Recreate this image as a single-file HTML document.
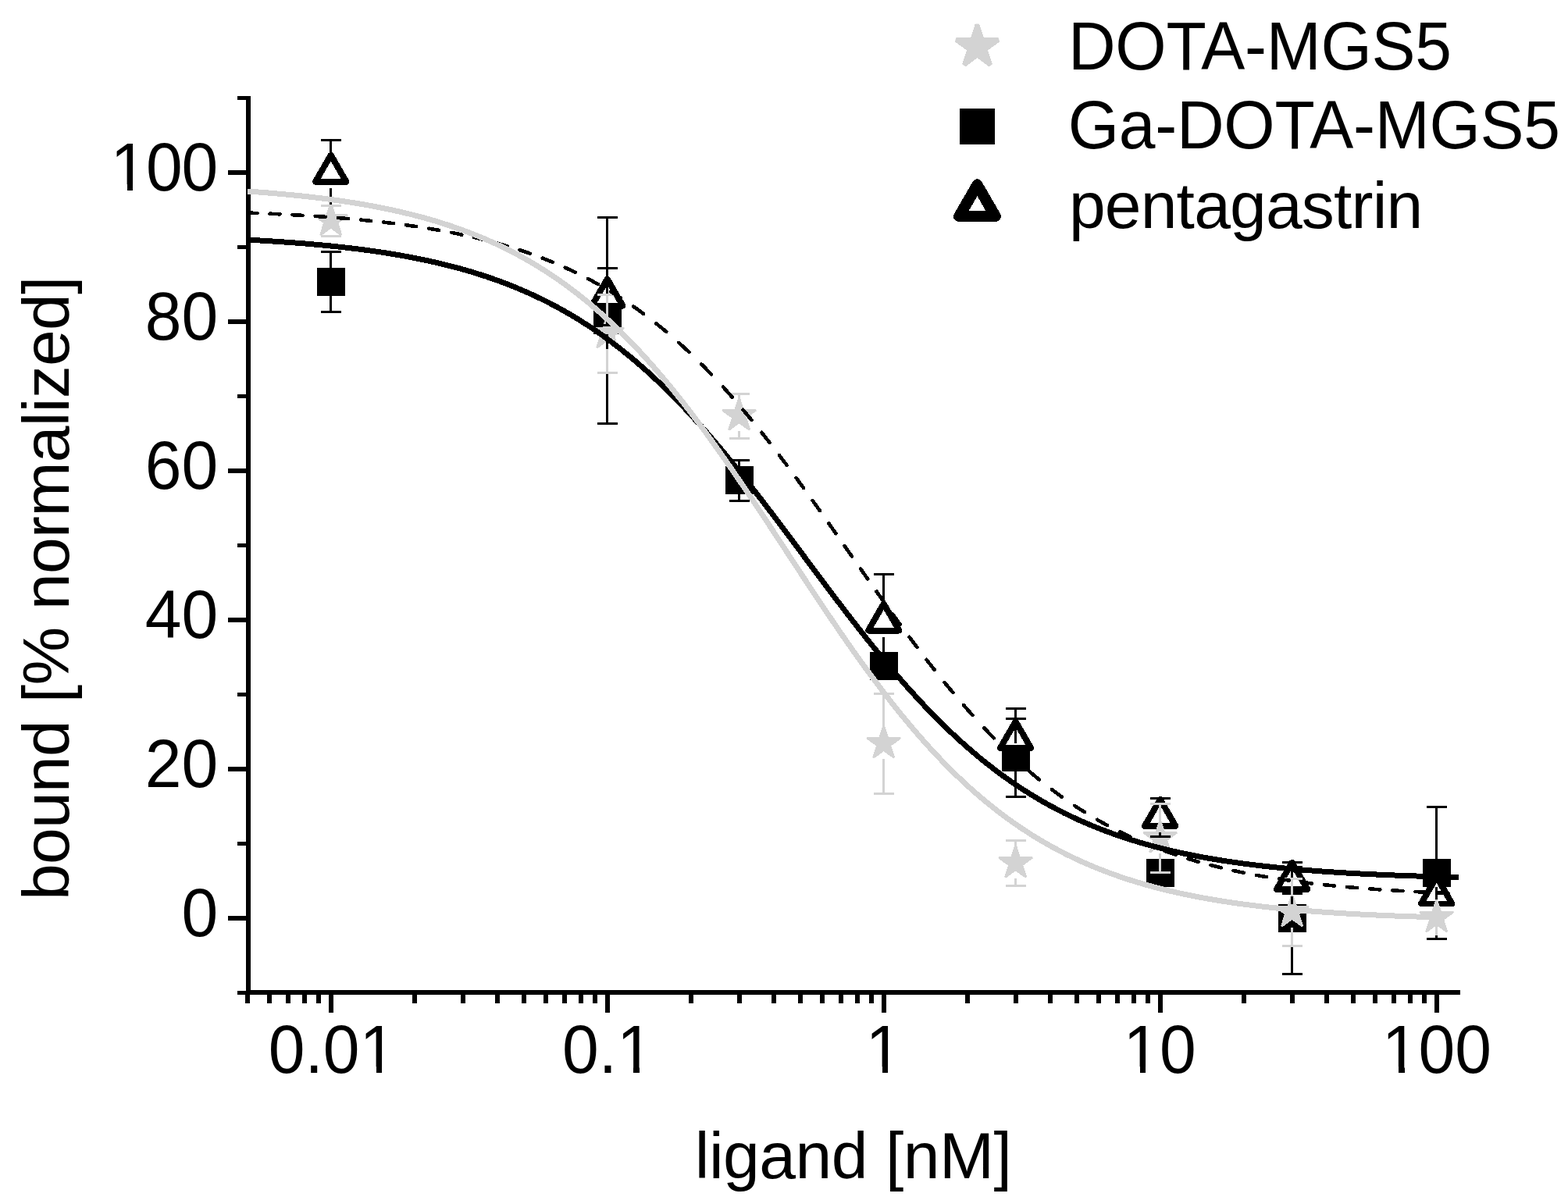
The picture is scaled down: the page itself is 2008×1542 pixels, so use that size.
<!DOCTYPE html>
<html><head><meta charset="utf-8"><title>Competitive binding curves</title>
<style>html,body{margin:0;padding:0;background:#fff;overflow:hidden;}svg{display:block;}</style></head>
<body>
<svg width="2008" height="1542" viewBox="0 0 2008 1542" shape-rendering="crispEdges">
<rect x="0" y="0" width="2008" height="1542" fill="#fff"/>
<g fill="#000"><rect x="315" y="123" width="6" height="1151"/><rect x="315" y="1268" width="1555" height="6"/><rect x="304" y="1269.00" width="12" height="5"/><rect x="292" y="1173.00" width="24" height="6"/><rect x="304" y="1078.00" width="12" height="5"/><rect x="292" y="982.00" width="24" height="6"/><rect x="304" y="887.00" width="12" height="5"/><rect x="292" y="791.00" width="24" height="6"/><rect x="304" y="696.00" width="12" height="5"/><rect x="292" y="600.00" width="24" height="6"/><rect x="304" y="505.00" width="12" height="5"/><rect x="292" y="409.00" width="24" height="6"/><rect x="304" y="314.00" width="12" height="5"/><rect x="292" y="218.00" width="24" height="6"/><rect x="304" y="123.00" width="12" height="5"/><rect x="314.44" y="1273" width="6" height="12"/><rect x="342.47" y="1273" width="6" height="12"/><rect x="366.16" y="1273" width="6" height="12"/><rect x="386.69" y="1273" width="6" height="12"/><rect x="404.80" y="1273" width="6" height="12"/><rect x="421.00" y="1273" width="6" height="24"/><rect x="527.56" y="1273" width="6" height="12"/><rect x="589.90" y="1273" width="6" height="12"/><rect x="634.13" y="1273" width="6" height="12"/><rect x="668.44" y="1273" width="6" height="12"/><rect x="696.47" y="1273" width="6" height="12"/><rect x="720.16" y="1273" width="6" height="12"/><rect x="740.69" y="1273" width="6" height="12"/><rect x="758.80" y="1273" width="6" height="12"/><rect x="775.00" y="1273" width="6" height="24"/><rect x="881.56" y="1273" width="6" height="12"/><rect x="943.90" y="1273" width="6" height="12"/><rect x="988.13" y="1273" width="6" height="12"/><rect x="1022.44" y="1273" width="6" height="12"/><rect x="1050.47" y="1273" width="6" height="12"/><rect x="1074.16" y="1273" width="6" height="12"/><rect x="1094.69" y="1273" width="6" height="12"/><rect x="1112.80" y="1273" width="6" height="12"/><rect x="1129.00" y="1273" width="6" height="24"/><rect x="1235.56" y="1273" width="6" height="12"/><rect x="1297.90" y="1273" width="6" height="12"/><rect x="1342.13" y="1273" width="6" height="12"/><rect x="1376.44" y="1273" width="6" height="12"/><rect x="1404.47" y="1273" width="6" height="12"/><rect x="1428.16" y="1273" width="6" height="12"/><rect x="1448.69" y="1273" width="6" height="12"/><rect x="1466.80" y="1273" width="6" height="12"/><rect x="1483.00" y="1273" width="6" height="24"/><rect x="1589.56" y="1273" width="6" height="12"/><rect x="1651.90" y="1273" width="6" height="12"/><rect x="1696.13" y="1273" width="6" height="12"/><rect x="1730.44" y="1273" width="6" height="12"/><rect x="1758.47" y="1273" width="6" height="12"/><rect x="1782.16" y="1273" width="6" height="12"/><rect x="1802.69" y="1273" width="6" height="12"/><rect x="1820.80" y="1273" width="6" height="12"/><rect x="1837.00" y="1273" width="6" height="24"/></g>
<g font-family="Liberation Sans, Arial, sans-serif" font-size="84" fill="#000"><text transform="translate(279.2 1198.7) scale(1 1.03)" text-anchor="end">0</text><text transform="translate(279.2 1007.7) scale(1 1.03)" text-anchor="end">20</text><text transform="translate(279.2 816.7) scale(1 1.03)" text-anchor="end">40</text><text transform="translate(279.2 625.7) scale(1 1.03)" text-anchor="end">60</text><text transform="translate(279.2 434.7) scale(1 1.03)" text-anchor="end">80</text><text transform="translate(141.5 243.7) scale(1 1.03)" textLength="137.7" lengthAdjust="spacing" mask="url(#m1a)">100</text><text transform="translate(425.4 1374) scale(1 1.03)" text-anchor="middle" mask="url(#m10d01)">0.01</text><text transform="translate(778.4 1374) scale(1 1.03)" text-anchor="middle" mask="url(#m10d1)">0.1</text><text transform="translate(1131.9 1374) scale(1 1.03)" text-anchor="middle" mask="url(#m11)">1</text><text transform="translate(1485.1 1374) scale(1 1.03)" text-anchor="middle" mask="url(#m110)">10</text><text transform="translate(1839.9 1374) scale(1 1.03)" text-anchor="middle" mask="url(#m1100)">100</text><text x="889.7" y="1509" textLength="406.2" lengthAdjust="spacing">ligand [nM]</text><text transform="translate(88 1153) rotate(-90)" x="0" y="0" textLength="799.4" lengthAdjust="spacing">bound [% normalized]</text></g>
<rect x="406.00" y="342.90" width="36" height="36" fill="#000"/><rect x="760.00" y="392.40" width="36" height="36" fill="#000"/><rect x="928.90" y="597.20" width="36" height="36" fill="#000"/><rect x="1114.00" y="835.00" width="36" height="36" fill="#000"/><rect x="1282.90" y="952.30" width="36" height="36" fill="#000"/><rect x="1468.00" y="1100.00" width="36" height="36" fill="#000"/><rect x="1636.90" y="1158.00" width="36" height="36" fill="#000"/><rect x="1822.00" y="1100.00" width="36" height="36" fill="#000"/><polygon points="423.70,199.10 443.10,232.70 404.30,232.70" fill="#000" stroke="#000" stroke-width="8.40" stroke-linejoin="round"/><polygon points="423.70,206.50 436.69,229.00 410.71,229.00" fill="#fff"/><polygon points="777.70,357.80 797.10,391.40 758.30,391.40" fill="#000" stroke="#000" stroke-width="8.40" stroke-linejoin="round"/><polygon points="777.70,365.20 790.69,387.70 764.71,387.70" fill="#fff"/><polygon points="1131.70,773.70 1151.10,807.30 1112.30,807.30" fill="#000" stroke="#000" stroke-width="8.40" stroke-linejoin="round"/><polygon points="1131.70,781.10 1144.69,803.60 1118.71,803.60" fill="#fff"/><polygon points="1300.60,924.50 1320.00,958.10 1281.20,958.10" fill="#000" stroke="#000" stroke-width="8.40" stroke-linejoin="round"/><polygon points="1300.60,931.90 1313.59,954.40 1287.61,954.40" fill="#fff"/><polygon points="1485.70,1024.20 1505.10,1057.80 1466.30,1057.80" fill="#000" stroke="#000" stroke-width="8.40" stroke-linejoin="round"/><polygon points="1485.70,1031.60 1498.69,1054.10 1472.71,1054.10" fill="#fff"/><polygon points="1654.60,1105.20 1674.00,1138.80 1635.20,1138.80" fill="#000" stroke="#000" stroke-width="8.40" stroke-linejoin="round"/><polygon points="1654.60,1112.60 1667.59,1135.10 1641.61,1135.10" fill="#fff"/><polygon points="1839.70,1123.60 1859.10,1157.20 1820.30,1157.20" fill="#000" stroke="#000" stroke-width="8.40" stroke-linejoin="round"/><polygon points="1839.70,1131.00 1852.69,1153.50 1826.71,1153.50" fill="#fff"/><polygon transform="translate(423.70 282.70)" clip-path="url(#sc0)" points="0.00,-26.70 6.00,-8.25 25.39,-8.25 9.70,3.15 15.69,21.60 0.00,10.20 -15.69,21.60 -9.70,3.15 -25.39,-8.25 -6.00,-8.25" fill="#d3d3d3"/><polygon transform="translate(777.70 427.00)" clip-path="url(#sc0)" points="0.00,-26.70 6.00,-8.25 25.39,-8.25 9.70,3.15 15.69,21.60 0.00,10.20 -15.69,21.60 -9.70,3.15 -25.39,-8.25 -6.00,-8.25" fill="#d3d3d3"/><polygon transform="translate(946.60 532.30)" clip-path="url(#sc0)" points="0.00,-26.70 6.00,-8.25 25.39,-8.25 9.70,3.15 15.69,21.60 0.00,10.20 -15.69,21.60 -9.70,3.15 -25.39,-8.25 -6.00,-8.25" fill="#d3d3d3"/><polygon transform="translate(1131.70 952.10)" clip-path="url(#sc0)" points="0.00,-26.70 6.00,-8.25 25.39,-8.25 9.70,3.15 15.69,21.60 0.00,10.20 -15.69,21.60 -9.70,3.15 -25.39,-8.25 -6.00,-8.25" fill="#d3d3d3"/><polygon transform="translate(1300.60 1105.30)" clip-path="url(#sc0)" points="0.00,-26.70 6.00,-8.25 25.39,-8.25 9.70,3.15 15.69,21.60 0.00,10.20 -15.69,21.60 -9.70,3.15 -25.39,-8.25 -6.00,-8.25" fill="#d3d3d3"/><polygon transform="translate(1485.70 1073.20)" clip-path="url(#sc0)" points="0.00,-26.70 6.00,-8.25 25.39,-8.25 9.70,3.15 15.69,21.60 0.00,10.20 -15.69,21.60 -9.70,3.15 -25.39,-8.25 -6.00,-8.25" fill="#d3d3d3"/><polygon transform="translate(1654.60 1168.00)" clip-path="url(#sc0)" points="0.00,-26.70 6.00,-8.25 25.39,-8.25 9.70,3.15 15.69,21.60 0.00,10.20 -15.69,21.60 -9.70,3.15 -25.39,-8.25 -6.00,-8.25" fill="#d3d3d3"/><polygon transform="translate(1839.70 1175.00)" clip-path="url(#sc0)" points="0.00,-26.70 6.00,-8.25 25.39,-8.25 9.70,3.15 15.69,21.60 0.00,10.20 -15.69,21.60 -9.70,3.15 -25.39,-8.25 -6.00,-8.25" fill="#d3d3d3"/>
<path d="M423.70 322.40V342.90M410.70 322.40H436.70M423.70 378.90V399.50M410.70 399.50H436.70" stroke="#000" stroke-width="3" fill="none"/><path d="M777.70 278.50V392.40M764.70 278.50H790.70M777.70 428.40V542.30M764.70 542.30H790.70" stroke="#000" stroke-width="3" fill="none"/><path d="M946.60 589.30V597.20M933.60 589.30H959.60M946.60 633.20V641.40M933.60 641.40H959.60" stroke="#000" stroke-width="3" fill="none"/><path d="M1300.60 920.40V952.30M1287.60 920.40H1313.60M1300.60 988.30V1020.20M1287.60 1020.20H1313.60" stroke="#000" stroke-width="3" fill="none"/><path d="M1654.60 1104.70V1158.00M1641.60 1104.70H1667.60M1654.60 1194.00V1247.50M1641.60 1247.50H1667.60" stroke="#000" stroke-width="3" fill="none"/><path d="M1839.70 1033.00V1100.00M1826.70 1033.00H1852.70M1839.70 1136.00V1202.20M1826.70 1202.20H1852.70" stroke="#000" stroke-width="3" fill="none"/><path d="M423.70 179.50V202.00M410.70 179.50H436.70M423.70 241.00V263.30M410.70 263.30H436.70" stroke="#000" stroke-width="3" fill="none"/><path d="M777.70 343.50V360.70M764.70 343.50H790.70M777.70 399.70V416.90M764.70 416.90H790.70" stroke="#000" stroke-width="3" fill="none"/><path d="M1131.70 735.10V776.60M1118.70 735.10H1144.70M1131.70 815.60V857.10M1118.70 857.10H1144.70" stroke="#000" stroke-width="3" fill="none"/><path d="M1300.60 907.20V927.40M1287.60 907.20H1313.60M1300.60 966.40V986.60M1287.60 986.60H1313.60" stroke="#000" stroke-width="3" fill="none"/><path d="M1485.70 1022.40V1027.10M1472.70 1022.40H1498.70M1485.70 1066.10V1071.50M1472.70 1071.50H1498.70" stroke="#000" stroke-width="3" fill="none"/><path d="M1641.60 1110.70H1667.60M1641.60 1144.50H1667.60" stroke="#000" stroke-width="3" fill="none"/><path d="M410.70 263.30H436.70M410.70 302.50H436.70" stroke="#d3d3d3" stroke-width="3" fill="none"/><path d="M777.70 377.40V407.00M764.70 377.40H790.70M777.70 447.00V477.60M764.70 477.60H790.70" stroke="#d3d3d3" stroke-width="3" fill="none"/><path d="M946.60 504.50V512.30M933.60 504.50H959.60M946.60 552.30V561.30M933.60 561.30H959.60" stroke="#d3d3d3" stroke-width="3" fill="none"/><path d="M1131.70 888.00V932.10M1118.70 888.00H1144.70M1131.70 972.10V1016.40M1118.70 1016.40H1144.70" stroke="#d3d3d3" stroke-width="3" fill="none"/><path d="M1300.60 1076.50V1085.30M1287.60 1076.50H1313.60M1300.60 1125.30V1134.50M1287.60 1134.50H1313.60" stroke="#d3d3d3" stroke-width="3" fill="none"/><path d="M1485.70 1029.20V1053.20M1472.70 1029.20H1498.70M1485.70 1093.20V1117.70M1472.70 1117.70H1498.70" stroke="#d3d3d3" stroke-width="3" fill="none"/><path d="M1654.60 1125.00V1148.00M1641.60 1125.00H1667.60M1654.60 1188.00V1211.70M1641.60 1211.70H1667.60" stroke="#d3d3d3" stroke-width="3" fill="none"/>
<polygon transform="translate(1839.70 1175.00)" clip-path="url(#sc0)" points="0.00,-26.70 6.00,-8.25 25.39,-8.25 9.70,3.15 15.69,21.60 0.00,10.20 -15.69,21.60 -9.70,3.15 -25.39,-8.25 -6.00,-8.25" fill="#d3d3d3"/>
<path d="M1839.70 1175.00V1198" stroke="#d3d3d3" stroke-width="3"/>
<path clip-path="url(#plotclip)" d="M317.00,272.52 L318.00,272.56 L319.00,272.60 L320.00,272.64 L321.00,272.68 L322.00,272.72 L323.00,272.75 L324.00,272.79 L325.00,272.83 L326.00,272.87 L327.00,272.92 L328.00,272.96 L329.00,273.00 L329.40,273.01M345.50,273.71 L346.00,273.74 L347.00,273.78 L348.00,273.83 L349.00,273.88 L350.00,273.92 L351.00,273.97 L352.00,274.02 L353.00,274.06 L354.00,274.11 L355.00,274.16 L356.00,274.21 L357.00,274.26 L358.00,274.31 L358.50,274.33M374.60,275.18 L375.00,275.20 L376.00,275.25 L377.00,275.31 L378.00,275.37 L379.00,275.42 L380.00,275.48 L381.00,275.54 L382.00,275.59 L383.00,275.65 L384.00,275.71 L385.00,275.77 L386.00,275.83 L387.00,275.89 L387.60,275.92M403.70,276.94 L404.00,276.96 L405.00,277.02 L406.00,277.09 L407.00,277.16 L408.00,277.23 L409.00,277.29 L410.00,277.36 L411.00,277.43 L412.00,277.50 L413.00,277.57 L414.00,277.64 L415.00,277.71 L416.00,277.78 L416.70,277.83M432.80,279.05 L433.00,279.07 L434.00,279.15 L435.00,279.23 L436.00,279.31 L437.00,279.39 L438.00,279.47 L439.00,279.56 L440.00,279.64 L441.00,279.72 L442.00,279.81 L443.00,279.89 L444.00,279.98 L445.00,280.06 L445.80,280.13M461.90,281.59 L462.00,281.60 L463.00,281.70 L464.00,281.80 L465.00,281.89 L466.00,281.99 L467.00,282.09 L468.00,282.19 L469.00,282.29 L470.00,282.39 L471.00,282.49 L472.00,282.59 L473.00,282.69 L474.00,282.80 L474.90,282.89M491.00,284.64 L492.00,284.76 L493.00,284.88 L494.00,284.99 L495.00,285.11 L496.00,285.23 L497.00,285.35 L498.00,285.46 L499.00,285.58 L500.00,285.71 L501.00,285.83 L502.00,285.95 L503.00,286.07 L504.00,286.20 L504.00,286.20M520.10,288.30 L521.00,288.42 L522.00,288.56 L523.00,288.70 L524.00,288.84 L525.00,288.98 L526.00,289.12 L527.00,289.27 L528.00,289.41 L529.00,289.55 L530.00,289.70 L531.00,289.85 L532.00,289.99 L533.00,290.14 L533.10,290.16M549.20,292.67 L550.00,292.80 L551.00,292.97 L552.00,293.14 L553.00,293.30 L554.00,293.47 L555.00,293.64 L556.00,293.81 L557.00,293.98 L558.00,294.16 L559.00,294.33 L560.00,294.50 L561.00,294.68 L562.00,294.86 L562.20,294.89M578.30,297.89 L579.00,298.03 L580.00,298.23 L581.00,298.43 L582.00,298.63 L583.00,298.83 L584.00,299.03 L585.00,299.23 L586.00,299.44 L587.00,299.64 L588.00,299.85 L589.00,300.06 L590.00,300.27 L591.00,300.48 L591.30,300.54M607.40,304.12 L608.00,304.26 L609.00,304.49 L610.00,304.73 L611.00,304.96 L612.00,305.20 L613.00,305.44 L614.00,305.68 L615.00,305.93 L616.00,306.17 L617.00,306.42 L618.00,306.66 L619.00,306.91 L620.00,307.16 L620.40,307.26M636.50,311.51 L637.00,311.65 L638.00,311.93 L639.00,312.21 L640.00,312.49 L641.00,312.77 L642.00,313.06 L643.00,313.34 L644.00,313.63 L645.00,313.92 L646.00,314.21 L647.00,314.50 L648.00,314.80 L649.00,315.09 L649.50,315.24M665.60,320.27 L666.00,320.40 L667.00,320.73 L668.00,321.06 L669.00,321.39 L670.00,321.73 L671.00,322.06 L672.00,322.40 L673.00,322.74 L674.00,323.08 L675.00,323.43 L676.00,323.77 L677.00,324.12 L678.00,324.47 L678.60,324.68M694.70,330.61 L695.00,330.72 L696.00,331.11 L697.00,331.50 L698.00,331.89 L699.00,332.28 L700.00,332.68 L701.00,333.07 L702.00,333.47 L703.00,333.88 L704.00,334.28 L705.00,334.69 L706.00,335.10 L707.00,335.51 L707.70,335.79M723.80,342.75 L724.00,342.84 L725.00,343.30 L726.00,343.75 L727.00,344.21 L728.00,344.67 L729.00,345.13 L730.00,345.60 L731.00,346.06 L732.00,346.53 L733.00,347.01 L734.00,347.48 L735.00,347.96 L736.00,348.44 L736.80,348.83M752.90,356.95 L753.00,357.00 L754.00,357.53 L755.00,358.06 L756.00,358.59 L757.00,359.13 L758.00,359.66 L759.00,360.21 L760.00,360.75 L761.00,361.30 L762.00,361.85 L763.00,362.40 L764.00,362.95 L765.00,363.51 L765.90,364.02M782.00,373.44 L783.00,374.05 L784.00,374.66 L785.00,375.28 L786.00,375.90 L787.00,376.52 L788.00,377.15 L789.00,377.78 L790.00,378.41 L791.00,379.04 L792.00,379.68 L793.00,380.32 L794.00,380.96 L795.00,381.61M811.10,392.46 L812.00,393.09 L813.00,393.80 L814.00,394.51 L815.00,395.22 L816.00,395.93 L817.00,396.65 L818.00,397.37 L819.00,398.09 L820.00,398.82 L821.00,399.55 L822.00,400.28 L823.00,401.02 L824.00,401.76 L824.10,401.84M840.20,414.23 L841.00,414.87 L842.00,415.67 L843.00,416.48 L844.00,417.28 L845.00,418.10 L846.00,418.91 L847.00,419.73 L848.00,420.55 L849.00,421.38 L850.00,422.21 L851.00,423.04 L852.00,423.88 L853.00,424.72 L853.20,424.89M869.30,438.91 L870.00,439.54 L871.00,440.44 L872.00,441.35 L873.00,442.26 L874.00,443.17 L875.00,444.09 L876.00,445.01 L877.00,445.94 L878.00,446.86 L879.00,447.80 L880.00,448.73 L881.00,449.67 L882.00,450.61 L882.30,450.90M898.40,466.58 L899.00,467.19 L900.00,468.19 L901.00,469.21 L902.00,470.22 L903.00,471.24 L904.00,472.26 L905.00,473.28 L906.00,474.31 L907.00,475.34 L908.00,476.38 L909.00,477.42 L910.00,478.46 L911.00,479.51 L911.07,479.58M926.06,495.68 L927.00,496.72 L928.00,497.82 L929.00,498.93 L930.00,500.04 L931.00,501.16 L932.00,502.28 L933.00,503.40 L934.00,504.52 L935.00,505.65 L936.00,506.78 L937.00,507.92 L937.67,508.68M951.52,524.78 L952.00,525.35 L953.00,526.54 L954.00,527.73 L955.00,528.92 L956.00,530.12 L957.00,531.32 L958.00,532.52 L959.00,533.73 L960.00,534.94 L961.00,536.15 L962.00,537.37 L962.34,537.78M975.35,553.88 L976.00,554.71 L977.00,555.97 L978.00,557.23 L979.00,558.49 L980.00,559.76 L981.00,561.03 L982.00,562.31 L983.00,563.59 L984.00,564.86 L985.00,566.15 L985.57,566.88M997.95,582.98 L998.00,583.05 L999.00,584.37 L1000.00,585.69 L1001.00,587.01 L1002.00,588.34 L1003.00,589.67 L1004.00,591.00 L1005.00,592.33 L1006.00,593.66 L1007.00,595.00 L1007.74,595.98M1019.64,612.08 L1020.00,612.57 L1021.00,613.93 L1022.00,615.30 L1023.00,616.67 L1024.00,618.04 L1025.00,619.42 L1026.00,620.79 L1027.00,622.17 L1028.00,623.55 L1029.00,624.93 L1029.12,625.08M1040.70,641.18 L1041.00,641.61 L1042.00,643.01 L1043.00,644.41 L1044.00,645.81 L1045.00,647.22 L1046.00,648.62 L1047.00,650.03 L1048.00,651.44 L1049.00,652.85 L1049.95,654.18M1061.32,670.28 L1062.00,671.25 L1063.00,672.68 L1064.00,674.10 L1065.00,675.52 L1066.00,676.95 L1067.00,678.37 L1068.00,679.80 L1069.00,681.22 L1070.00,682.65 L1070.44,683.28M1081.71,699.38 L1082.00,699.81 L1083.00,701.24 L1084.00,702.67 L1085.00,704.10 L1086.00,705.53 L1087.00,706.96 L1088.00,708.40 L1089.00,709.83 L1090.00,711.26 L1090.79,712.38M1102.04,728.48 L1103.00,729.86 L1104.00,731.29 L1105.00,732.71 L1106.00,734.14 L1107.00,735.57 L1108.00,736.99 L1109.00,738.42 L1110.00,739.84 L1111.00,741.27 L1111.15,741.48M1122.50,757.58 L1123.00,758.30 L1124.00,759.71 L1125.00,761.12 L1126.00,762.53 L1127.00,763.94 L1128.00,765.35 L1129.00,766.76 L1130.00,768.16 L1131.00,769.57 L1131.72,770.58M1143.26,786.68 L1144.00,787.71 L1145.00,789.09 L1146.00,790.48 L1147.00,791.86 L1148.00,793.24 L1149.00,794.62 L1150.00,795.99 L1151.00,797.37 L1152.00,798.74 L1152.69,799.68M1164.53,815.78 L1165.00,816.41 L1166.00,817.76 L1167.00,819.10 L1168.00,820.44 L1169.00,821.78 L1170.00,823.12 L1171.00,824.45 L1172.00,825.78 L1173.00,827.11 L1174.00,828.44 L1174.26,828.78M1186.55,844.88 L1187.00,845.47 L1188.00,846.76 L1189.00,848.05 L1190.00,849.34 L1191.00,850.62 L1192.00,851.91 L1193.00,853.19 L1194.00,854.46 L1195.00,855.74 L1196.00,857.01 L1196.69,857.88M1209.58,873.98 L1210.00,874.50 L1211.00,875.73 L1212.00,876.95 L1213.00,878.18 L1214.00,879.39 L1215.00,880.61 L1216.00,881.82 L1217.00,883.03 L1218.00,884.24 L1219.00,885.44 L1220.00,886.64 L1220.29,886.98M1233.98,903.08 L1234.00,903.11 L1235.00,904.26 L1236.00,905.41 L1237.00,906.55 L1238.00,907.69 L1239.00,908.83 L1240.00,909.97 L1241.00,911.10 L1242.00,912.23 L1243.00,913.35 L1244.00,914.47 L1245.00,915.59 L1245.44,916.08M1260.22,932.18 L1261.00,933.02 L1262.00,934.08 L1263.00,935.13 L1264.00,936.18 L1265.00,937.23 L1266.00,938.28 L1267.00,939.32 L1268.00,940.36 L1269.00,941.39 L1270.00,942.43 L1271.00,943.45 L1272.00,944.48 L1272.69,945.18M1288.74,961.09 L1289.00,961.35 L1290.00,962.31 L1291.00,963.26 L1292.00,964.22 L1293.00,965.17 L1294.00,966.11 L1295.00,967.05 L1296.00,967.99 L1297.00,968.93 L1298.00,969.86 L1299.00,970.79 L1300.00,971.71 L1301.00,972.63 L1301.74,973.31M1317.84,987.60 L1318.00,987.74 L1319.00,988.60 L1320.00,989.45 L1321.00,990.30 L1322.00,991.15 L1323.00,991.99 L1324.00,992.83 L1325.00,993.67 L1326.00,994.50 L1327.00,995.33 L1328.00,996.16 L1329.00,996.98 L1330.00,997.80 L1330.84,998.48M1346.94,1011.14 L1347.00,1011.18 L1348.00,1011.94 L1349.00,1012.69 L1350.00,1013.45 L1351.00,1014.19 L1352.00,1014.94 L1353.00,1015.68 L1354.00,1016.41 L1355.00,1017.15 L1356.00,1017.88 L1357.00,1018.60 L1358.00,1019.33 L1359.00,1020.05 L1359.94,1020.72M1376.04,1031.82 L1377.00,1032.46 L1378.00,1033.12 L1379.00,1033.77 L1380.00,1034.42 L1381.00,1035.07 L1382.00,1035.72 L1383.00,1036.36 L1384.00,1037.00 L1385.00,1037.64 L1386.00,1038.28 L1387.00,1038.91 L1388.00,1039.54 L1389.00,1040.16 L1389.04,1040.18M1405.14,1049.83 L1406.00,1050.33 L1407.00,1050.90 L1408.00,1051.47 L1409.00,1052.04 L1410.00,1052.60 L1411.00,1053.16 L1412.00,1053.72 L1413.00,1054.27 L1414.00,1054.83 L1415.00,1055.38 L1416.00,1055.92 L1417.00,1056.47 L1418.00,1057.01 L1418.14,1057.08M1434.24,1065.41 L1435.00,1065.79 L1436.00,1066.28 L1437.00,1066.77 L1438.00,1067.26 L1439.00,1067.74 L1440.00,1068.22 L1441.00,1068.70 L1442.00,1069.18 L1443.00,1069.66 L1444.00,1070.13 L1445.00,1070.60 L1446.00,1071.06 L1447.00,1071.53 L1447.24,1071.64M1463.34,1078.78 L1464.00,1079.06 L1465.00,1079.48 L1466.00,1079.90 L1467.00,1080.32 L1468.00,1080.73 L1469.00,1081.15 L1470.00,1081.56 L1471.00,1081.97 L1472.00,1082.37 L1473.00,1082.78 L1474.00,1083.18 L1475.00,1083.58 L1476.00,1083.97 L1476.34,1084.11M1492.44,1090.20 L1493.00,1090.40 L1494.00,1090.76 L1495.00,1091.12 L1496.00,1091.47 L1497.00,1091.83 L1498.00,1092.18 L1499.00,1092.53 L1500.00,1092.87 L1501.00,1093.22 L1502.00,1093.56 L1503.00,1093.90 L1504.00,1094.24 L1505.00,1094.58 L1505.44,1094.73M1521.54,1099.90 L1522.00,1100.04 L1523.00,1100.34 L1524.00,1100.65 L1525.00,1100.95 L1526.00,1101.25 L1527.00,1101.54 L1528.00,1101.84 L1529.00,1102.13 L1530.00,1102.43 L1531.00,1102.72 L1532.00,1103.01 L1533.00,1103.30 L1534.00,1103.58 L1534.54,1103.73M1550.64,1108.10 L1551.00,1108.20 L1552.00,1108.45 L1553.00,1108.71 L1554.00,1108.96 L1555.00,1109.22 L1556.00,1109.47 L1557.00,1109.72 L1558.00,1109.97 L1559.00,1110.21 L1560.00,1110.46 L1561.00,1110.70 L1562.00,1110.95 L1563.00,1111.19 L1563.64,1111.34M1579.74,1115.02 L1580.00,1115.08 L1581.00,1115.29 L1582.00,1115.51 L1583.00,1115.72 L1584.00,1115.94 L1585.00,1116.15 L1586.00,1116.36 L1587.00,1116.57 L1588.00,1116.78 L1589.00,1116.98 L1590.00,1117.19 L1591.00,1117.39 L1592.00,1117.60 L1592.74,1117.74M1608.84,1120.84 L1609.00,1120.87 L1610.00,1121.05 L1611.00,1121.23 L1612.00,1121.41 L1613.00,1121.59 L1614.00,1121.77 L1615.00,1121.94 L1616.00,1122.12 L1617.00,1122.29 L1618.00,1122.47 L1619.00,1122.64 L1620.00,1122.81 L1621.00,1122.98 L1621.84,1123.12M1637.94,1125.71 L1638.00,1125.72 L1639.00,1125.88 L1640.00,1126.03 L1641.00,1126.18 L1642.00,1126.33 L1643.00,1126.48 L1644.00,1126.62 L1645.00,1126.77 L1646.00,1126.92 L1647.00,1127.06 L1648.00,1127.21 L1649.00,1127.35 L1650.00,1127.49 L1650.94,1127.63M1667.04,1129.79 L1668.00,1129.92 L1669.00,1130.04 L1670.00,1130.17 L1671.00,1130.29 L1672.00,1130.42 L1673.00,1130.54 L1674.00,1130.67 L1675.00,1130.79 L1676.00,1130.91 L1677.00,1131.03 L1678.00,1131.15 L1679.00,1131.27 L1680.00,1131.39 L1680.04,1131.39M1696.14,1133.20 L1697.00,1133.29 L1698.00,1133.40 L1699.00,1133.50 L1700.00,1133.61 L1701.00,1133.71 L1702.00,1133.82 L1703.00,1133.92 L1704.00,1134.02 L1705.00,1134.12 L1706.00,1134.22 L1707.00,1134.32 L1708.00,1134.42 L1709.00,1134.52 L1709.14,1134.53M1725.24,1136.04 L1726.00,1136.11 L1727.00,1136.20 L1728.00,1136.29 L1729.00,1136.37 L1730.00,1136.46 L1731.00,1136.55 L1732.00,1136.63 L1733.00,1136.72 L1734.00,1136.80 L1735.00,1136.89 L1736.00,1136.97 L1737.00,1137.05 L1738.00,1137.14 L1738.24,1137.16M1754.34,1138.41 L1755.00,1138.46 L1756.00,1138.53 L1757.00,1138.61 L1758.00,1138.68 L1759.00,1138.75 L1760.00,1138.82 L1761.00,1138.90 L1762.00,1138.97 L1763.00,1139.04 L1764.00,1139.11 L1765.00,1139.18 L1766.00,1139.25 L1767.00,1139.31 L1767.34,1139.34M1783.44,1140.38 L1784.00,1140.42 L1785.00,1140.48 L1786.00,1140.54 L1787.00,1140.60 L1788.00,1140.66 L1789.00,1140.72 L1790.00,1140.78 L1791.00,1140.84 L1792.00,1140.90 L1793.00,1140.95 L1794.00,1141.01 L1795.00,1141.07 L1796.00,1141.13 L1796.44,1141.15M1812.54,1142.02 L1813.00,1142.04 L1814.00,1142.10 L1815.00,1142.15 L1816.00,1142.20 L1817.00,1142.25 L1818.00,1142.30 L1819.00,1142.35 L1820.00,1142.39 L1821.00,1142.44 L1822.00,1142.49 L1823.00,1142.54 L1824.00,1142.59 L1825.00,1142.63 L1825.54,1142.66M1841.64,1143.38 L1842.00,1143.40 L1843.00,1143.44 L1844.00,1143.48 L1845.00,1143.52 L1846.00,1143.57 L1847.00,1143.61 L1848.00,1143.65 L1849.00,1143.69 L1850.00,1143.73 L1851.00,1143.77 L1852.00,1143.81 L1853.00,1143.85 L1854.00,1143.89 L1854.64,1143.91" fill="none" stroke="#000" stroke-width="4.6" stroke-linecap="round" stroke-linejoin="round"/>
<path d="M317.0,307.15 L319.0,307.26 L321.0,307.36 L323.0,307.47 L325.0,307.58 L327.0,307.69 L329.0,307.80 L331.0,307.91 L333.0,308.02 L335.0,308.14 L337.0,308.26 L339.0,308.37 L341.0,308.49 L343.0,308.61 L345.0,308.74 L347.0,308.86 L349.0,308.99 L351.0,309.12 L353.0,309.24 L355.0,309.38 L357.0,309.51 L359.0,309.64 L361.0,309.78 L363.0,309.92 L365.0,310.05 L367.0,310.20 L369.0,310.34 L371.0,310.48 L373.0,310.63 L375.0,310.78 L377.0,310.93 L379.0,311.08 L381.0,311.24 L383.0,311.39 L385.0,311.55 L387.0,311.71 L389.0,311.87 L391.0,312.04 L393.0,312.20 L395.0,312.37 L397.0,312.54 L399.0,312.71 L401.0,312.89 L403.0,313.07 L405.0,313.24 L407.0,313.43 L409.0,313.61 L411.0,313.80 L413.0,313.98 L415.0,314.18 L417.0,314.37 L419.0,314.56 L421.0,314.76 L423.0,314.96 L425.0,315.17 L427.0,315.37 L429.0,315.58 L431.0,315.79 L433.0,316.00 L435.0,316.22 L437.0,316.44 L439.0,316.66 L441.0,316.88 L443.0,317.11 L445.0,317.34 L447.0,317.57 L449.0,317.81 L451.0,318.05 L453.0,318.29 L455.0,318.54 L457.0,318.78 L459.0,319.03 L461.0,319.29 L463.0,319.55 L465.0,319.81 L467.0,320.07 L469.0,320.34 L471.0,320.61 L473.0,320.88 L475.0,321.16 L477.0,321.44 L479.0,321.72 L481.0,322.01 L483.0,322.30 L485.0,322.59 L487.0,322.89 L489.0,323.19 L491.0,323.50 L493.0,323.80 L495.0,324.12 L497.0,324.43 L499.0,324.75 L501.0,325.08 L503.0,325.41 L505.0,325.74 L507.0,326.08 L509.0,326.42 L511.0,326.76 L513.0,327.11 L515.0,327.46 L517.0,327.82 L519.0,328.18 L521.0,328.55 L523.0,328.92 L525.0,329.29 L527.0,329.67 L529.0,330.06 L531.0,330.45 L533.0,330.84 L535.0,331.24 L537.0,331.64 L539.0,332.05 L541.0,332.46 L543.0,332.88 L545.0,333.30 L547.0,333.73 L549.0,334.16 L551.0,334.60 L553.0,335.04 L555.0,335.49 L557.0,335.95 L559.0,336.40 L561.0,336.87 L563.0,337.34 L565.0,337.82 L567.0,338.30 L569.0,338.78 L571.0,339.28 L573.0,339.78 L575.0,340.28 L577.0,340.79 L579.0,341.31 L581.0,341.83 L583.0,342.36 L585.0,342.89 L587.0,343.43 L589.0,343.98 L591.0,344.53 L593.0,345.09 L595.0,345.66 L597.0,346.23 L599.0,346.81 L601.0,347.40 L603.0,347.99 L605.0,348.59 L607.0,349.20 L609.0,349.81 L611.0,350.43 L613.0,351.06 L615.0,351.70 L617.0,352.34 L619.0,352.99 L621.0,353.65 L623.0,354.31 L625.0,354.98 L627.0,355.66 L629.0,356.35 L631.0,357.04 L633.0,357.75 L635.0,358.46 L637.0,359.17 L639.0,359.90 L641.0,360.64 L643.0,361.38 L645.0,362.13 L647.0,362.89 L649.0,363.66 L651.0,364.43 L653.0,365.22 L655.0,366.01 L657.0,366.81 L659.0,367.62 L661.0,368.44 L663.0,369.27 L665.0,370.11 L667.0,370.95 L669.0,371.81 L671.0,372.67 L673.0,373.55 L675.0,374.43 L677.0,375.32 L679.0,376.22 L681.0,377.14 L683.0,378.06 L685.0,378.99 L687.0,379.93 L689.0,380.88 L691.0,381.84 L693.0,382.81 L695.0,383.79 L697.0,384.78 L699.0,385.78 L701.0,386.79 L703.0,387.82 L705.0,388.85 L707.0,389.89 L709.0,390.94 L711.0,392.01 L713.0,393.08 L715.0,394.17 L717.0,395.27 L719.0,396.37 L721.0,397.49 L723.0,398.62 L725.0,399.76 L727.0,400.91 L729.0,402.08 L731.0,403.25 L733.0,404.44 L735.0,405.64 L737.0,406.85 L739.0,408.07 L741.0,409.30 L743.0,410.54 L745.0,411.80 L747.0,413.07 L749.0,414.35 L751.0,415.64 L753.0,416.95 L755.0,418.26 L757.0,419.59 L759.0,420.93 L761.0,422.29 L763.0,423.65 L765.0,425.03 L767.0,426.42 L769.0,427.82 L771.0,429.24 L773.0,430.67 L775.0,432.11 L777.0,433.56 L779.0,435.03 L781.0,436.51 L783.0,438.00 L785.0,439.50 L787.0,441.02 L789.0,442.55 L791.0,444.10 L793.0,445.66 L795.0,447.23 L797.0,448.81 L799.0,450.41 L801.0,452.02 L803.0,453.64 L805.0,455.27 L807.0,456.92 L809.0,458.59 L811.0,460.26 L813.0,461.95 L815.0,463.66 L817.0,465.37 L819.0,467.10 L821.0,468.84 L823.0,470.60 L825.0,472.37 L827.0,474.15 L829.0,475.95 L831.0,477.76 L833.0,479.58 L835.0,481.42 L837.0,483.27 L839.0,485.13 L841.0,487.01 L843.0,488.90 L845.0,490.80 L847.0,492.72 L849.0,494.65 L851.0,496.59 L853.0,498.55 L855.0,500.52 L857.0,502.50 L859.0,504.50 L861.0,506.50 L863.0,508.53 L865.0,510.56 L867.0,512.61 L869.0,514.67 L871.0,516.74 L873.0,518.83 L875.0,520.93 L877.0,523.04 L879.0,525.16 L881.0,527.30 L883.0,529.45 L885.0,531.61 L887.0,533.79 L889.0,535.97 L891.0,538.17 L893.0,540.38 L895.0,542.60 L897.0,544.84 L899.0,547.08 L901.0,549.34 L903.0,551.61 L905.0,553.89 L907.0,556.19 L909.0,558.49 L911.0,560.80 L913.0,563.13 L915.0,565.47 L917.0,567.82 L919.0,570.17 L921.0,572.54 L923.0,574.92 L925.0,577.31 L927.0,579.71 L929.0,582.12 L931.0,584.54 L933.0,586.97 L935.0,589.41 L937.0,591.86 L939.0,594.32 L941.0,596.79 L943.0,599.26 L945.0,601.75 L947.0,604.24 L949.0,606.74 L951.0,609.25 L953.0,611.77 L955.0,614.30 L957.0,616.83 L959.0,619.38 L961.0,621.93 L963.0,624.48 L965.0,627.05 L967.0,629.62 L969.0,632.20 L971.0,634.78 L973.0,637.37 L975.0,639.97 L977.0,642.57 L979.0,645.18 L981.0,647.79 L983.0,650.41 L985.0,653.04 L987.0,655.67 L989.0,658.30 L991.0,660.94 L993.0,663.58 L995.0,666.23 L997.0,668.88 L999.0,671.54 L1001.0,674.20 L1003.0,676.86 L1005.0,679.52 L1007.0,682.19 L1009.0,684.86 L1011.0,687.53 L1013.0,690.21 L1015.0,692.88 L1017.0,695.56 L1019.0,698.24 L1021.0,700.92 L1023.0,703.60 L1025.0,706.28 L1027.0,708.97 L1029.0,711.65 L1031.0,714.34 L1033.0,717.02 L1035.0,719.70 L1037.0,722.38 L1039.0,725.07 L1041.0,727.75 L1043.0,730.43 L1045.0,733.10 L1047.0,735.78 L1049.0,738.46 L1051.0,741.13 L1053.0,743.80 L1055.0,746.47 L1057.0,749.13 L1059.0,751.79 L1061.0,754.45 L1063.0,757.11 L1065.0,759.76 L1067.0,762.41 L1069.0,765.05 L1071.0,767.69 L1073.0,770.32 L1075.0,772.95 L1077.0,775.58 L1079.0,778.20 L1081.0,780.81 L1083.0,783.42 L1085.0,786.02 L1087.0,788.62 L1089.0,791.21 L1091.0,793.80 L1093.0,796.38 L1095.0,798.95 L1097.0,801.51 L1099.0,804.07 L1101.0,806.62 L1103.0,809.16 L1105.0,811.70 L1107.0,814.23 L1109.0,816.75 L1111.0,819.26 L1113.0,821.76 L1115.0,824.26 L1117.0,826.74 L1119.0,829.22 L1121.0,831.69 L1123.0,834.15 L1125.0,836.59 L1127.0,839.03 L1129.0,841.47 L1131.0,843.89 L1133.0,846.30 L1135.0,848.70 L1137.0,851.09 L1139.0,853.47 L1141.0,855.84 L1143.0,858.20 L1145.0,860.55 L1147.0,862.88 L1149.0,865.21 L1151.0,867.53 L1153.0,869.83 L1155.0,872.13 L1157.0,874.41 L1159.0,876.68 L1161.0,878.94 L1163.0,881.18 L1165.0,883.42 L1167.0,885.64 L1169.0,887.85 L1171.0,890.05 L1173.0,892.24 L1175.0,894.42 L1177.0,896.58 L1179.0,898.73 L1181.0,900.87 L1183.0,902.99 L1185.0,905.11 L1187.0,907.21 L1189.0,909.29 L1191.0,911.37 L1193.0,913.43 L1195.0,915.48 L1197.0,917.51 L1199.0,919.54 L1201.0,921.55 L1203.0,923.54 L1205.0,925.53 L1207.0,927.50 L1209.0,929.46 L1211.0,931.40 L1213.0,933.33 L1215.0,935.25 L1217.0,937.15 L1219.0,939.04 L1221.0,940.92 L1223.0,942.79 L1225.0,944.64 L1227.0,946.47 L1229.0,948.30 L1231.0,950.11 L1233.0,951.91 L1235.0,953.69 L1237.0,955.46 L1239.0,957.22 L1241.0,958.96 L1243.0,960.69 L1245.0,962.41 L1247.0,964.11 L1249.0,965.81 L1251.0,967.48 L1253.0,969.15 L1255.0,970.80 L1257.0,972.43 L1259.0,974.06 L1261.0,975.67 L1263.0,977.27 L1265.0,978.85 L1267.0,980.42 L1269.0,981.98 L1271.0,983.53 L1273.0,985.06 L1275.0,986.58 L1277.0,988.08 L1279.0,989.58 L1281.0,991.06 L1283.0,992.53 L1285.0,993.98 L1287.0,995.42 L1289.0,996.85 L1291.0,998.27 L1293.0,999.67 L1295.0,1001.06 L1297.0,1002.44 L1299.0,1003.81 L1301.0,1005.16 L1303.0,1006.51 L1305.0,1007.84 L1307.0,1009.15 L1309.0,1010.46 L1311.0,1011.75 L1313.0,1013.03 L1315.0,1014.30 L1317.0,1015.56 L1319.0,1016.81 L1321.0,1018.04 L1323.0,1019.26 L1325.0,1020.47 L1327.0,1021.67 L1329.0,1022.86 L1331.0,1024.03 L1333.0,1025.20 L1335.0,1026.35 L1337.0,1027.49 L1339.0,1028.62 L1341.0,1029.74 L1343.0,1030.85 L1345.0,1031.95 L1347.0,1033.03 L1349.0,1034.11 L1351.0,1035.17 L1353.0,1036.23 L1355.0,1037.27 L1357.0,1038.31 L1359.0,1039.33 L1361.0,1040.34 L1363.0,1041.34 L1365.0,1042.33 L1367.0,1043.32 L1369.0,1044.29 L1371.0,1045.25 L1373.0,1046.20 L1375.0,1047.14 L1377.0,1048.07 L1379.0,1049.00 L1381.0,1049.91 L1383.0,1050.81 L1385.0,1051.70 L1387.0,1052.59 L1389.0,1053.46 L1391.0,1054.33 L1393.0,1055.18 L1395.0,1056.03 L1397.0,1056.87 L1399.0,1057.70 L1401.0,1058.52 L1403.0,1059.33 L1405.0,1060.13 L1407.0,1060.93 L1409.0,1061.71 L1411.0,1062.49 L1413.0,1063.26 L1415.0,1064.02 L1417.0,1064.77 L1419.0,1065.51 L1421.0,1066.25 L1423.0,1066.97 L1425.0,1067.69 L1427.0,1068.40 L1429.0,1069.11 L1431.0,1069.80 L1433.0,1070.49 L1435.0,1071.17 L1437.0,1071.84 L1439.0,1072.51 L1441.0,1073.16 L1443.0,1073.81 L1445.0,1074.46 L1447.0,1075.09 L1449.0,1075.72 L1451.0,1076.34 L1453.0,1076.96 L1455.0,1077.56 L1457.0,1078.17 L1459.0,1078.76 L1461.0,1079.35 L1463.0,1079.93 L1465.0,1080.50 L1467.0,1081.07 L1469.0,1081.63 L1471.0,1082.18 L1473.0,1082.73 L1475.0,1083.27 L1477.0,1083.81 L1479.0,1084.33 L1481.0,1084.86 L1483.0,1085.37 L1485.0,1085.89 L1487.0,1086.39 L1489.0,1086.89 L1491.0,1087.38 L1493.0,1087.87 L1495.0,1088.35 L1497.0,1088.83 L1499.0,1089.30 L1501.0,1089.76 L1503.0,1090.22 L1505.0,1090.68 L1507.0,1091.13 L1509.0,1091.57 L1511.0,1092.01 L1513.0,1092.44 L1515.0,1092.87 L1517.0,1093.29 L1519.0,1093.71 L1521.0,1094.12 L1523.0,1094.53 L1525.0,1094.94 L1527.0,1095.33 L1529.0,1095.73 L1531.0,1096.12 L1533.0,1096.50 L1535.0,1096.88 L1537.0,1097.26 L1539.0,1097.63 L1541.0,1097.99 L1543.0,1098.36 L1545.0,1098.71 L1547.0,1099.07 L1549.0,1099.42 L1551.0,1099.76 L1553.0,1100.10 L1555.0,1100.44 L1557.0,1100.77 L1559.0,1101.10 L1561.0,1101.43 L1563.0,1101.75 L1565.0,1102.06 L1567.0,1102.38 L1569.0,1102.69 L1571.0,1102.99 L1573.0,1103.29 L1575.0,1103.59 L1577.0,1103.89 L1579.0,1104.18 L1581.0,1104.46 L1583.0,1104.75 L1585.0,1105.03 L1587.0,1105.31 L1589.0,1105.58 L1591.0,1105.85 L1593.0,1106.12 L1595.0,1106.38 L1597.0,1106.64 L1599.0,1106.90 L1601.0,1107.15 L1603.0,1107.40 L1605.0,1107.65 L1607.0,1107.90 L1609.0,1108.14 L1611.0,1108.38 L1613.0,1108.61 L1615.0,1108.85 L1617.0,1109.08 L1619.0,1109.30 L1621.0,1109.53 L1623.0,1109.75 L1625.0,1109.97 L1627.0,1110.18 L1629.0,1110.40 L1631.0,1110.61 L1633.0,1110.82 L1635.0,1111.02 L1637.0,1111.23 L1639.0,1111.43 L1641.0,1111.63 L1643.0,1111.82 L1645.0,1112.02 L1647.0,1112.21 L1649.0,1112.39 L1651.0,1112.58 L1653.0,1112.77 L1655.0,1112.95 L1657.0,1113.13 L1659.0,1113.30 L1661.0,1113.48 L1663.0,1113.65 L1665.0,1113.82 L1667.0,1113.99 L1669.0,1114.16 L1671.0,1114.32 L1673.0,1114.48 L1675.0,1114.64 L1677.0,1114.80 L1679.0,1114.96 L1681.0,1115.11 L1683.0,1115.26 L1685.0,1115.42 L1687.0,1115.56 L1689.0,1115.71 L1691.0,1115.86 L1693.0,1116.00 L1695.0,1116.14 L1697.0,1116.28 L1699.0,1116.42 L1701.0,1116.55 L1703.0,1116.69 L1705.0,1116.82 L1707.0,1116.95 L1709.0,1117.08 L1711.0,1117.21 L1713.0,1117.33 L1715.0,1117.46 L1717.0,1117.58 L1719.0,1117.70 L1721.0,1117.82 L1723.0,1117.94 L1725.0,1118.06 L1727.0,1118.17 L1729.0,1118.29 L1731.0,1118.40 L1733.0,1118.51 L1735.0,1118.62 L1737.0,1118.73 L1739.0,1118.84 L1741.0,1118.94 L1743.0,1119.05 L1745.0,1119.15 L1747.0,1119.25 L1749.0,1119.35 L1751.0,1119.45 L1753.0,1119.55 L1755.0,1119.64 L1757.0,1119.74 L1759.0,1119.83 L1761.0,1119.93 L1763.0,1120.02 L1765.0,1120.11 L1767.0,1120.20 L1769.0,1120.29 L1771.0,1120.37 L1773.0,1120.46 L1775.0,1120.55 L1777.0,1120.63 L1779.0,1120.71 L1781.0,1120.79 L1783.0,1120.88 L1785.0,1120.96 L1787.0,1121.03 L1789.0,1121.11 L1791.0,1121.19 L1793.0,1121.26 L1795.0,1121.34 L1797.0,1121.41 L1799.0,1121.49 L1801.0,1121.56 L1803.0,1121.63 L1805.0,1121.70 L1807.0,1121.77 L1809.0,1121.84 L1811.0,1121.90 L1813.0,1121.97 L1815.0,1122.04 L1817.0,1122.10 L1819.0,1122.17 L1821.0,1122.23 L1823.0,1122.29 L1825.0,1122.35 L1827.0,1122.42 L1829.0,1122.48 L1831.0,1122.53 L1833.0,1122.59 L1835.0,1122.65 L1837.0,1122.71 L1839.0,1122.77 L1841.0,1122.82 L1843.0,1122.88 L1845.0,1122.93 L1847.0,1122.98 L1849.0,1123.04 L1851.0,1123.09 L1853.0,1123.14 L1855.0,1123.19 L1857.0,1123.24 L1859.0,1123.29 L1861.0,1123.34 L1863.0,1123.39 L1865.0,1123.44 L1867.0,1123.48 L1868.0,1123.51" fill="none" stroke="#000" stroke-width="7" stroke-linejoin="round"/>
<path d="M317.0,245.02 L319.0,245.16 L321.0,245.30 L323.0,245.44 L325.0,245.59 L327.0,245.73 L329.0,245.88 L331.0,246.03 L333.0,246.18 L335.0,246.33 L337.0,246.49 L339.0,246.65 L341.0,246.81 L343.0,246.97 L345.0,247.13 L347.0,247.29 L349.0,247.46 L351.0,247.63 L353.0,247.80 L355.0,247.98 L357.0,248.15 L359.0,248.33 L361.0,248.51 L363.0,248.69 L365.0,248.88 L367.0,249.07 L369.0,249.26 L371.0,249.45 L373.0,249.64 L375.0,249.84 L377.0,250.04 L379.0,250.24 L381.0,250.45 L383.0,250.65 L385.0,250.86 L387.0,251.08 L389.0,251.29 L391.0,251.51 L393.0,251.73 L395.0,251.95 L397.0,252.18 L399.0,252.41 L401.0,252.64 L403.0,252.87 L405.0,253.11 L407.0,253.35 L409.0,253.59 L411.0,253.84 L413.0,254.09 L415.0,254.34 L417.0,254.60 L419.0,254.86 L421.0,255.12 L423.0,255.38 L425.0,255.65 L427.0,255.93 L429.0,256.20 L431.0,256.48 L433.0,256.76 L435.0,257.05 L437.0,257.34 L439.0,257.63 L441.0,257.93 L443.0,258.23 L445.0,258.53 L447.0,258.84 L449.0,259.15 L451.0,259.47 L453.0,259.78 L455.0,260.11 L457.0,260.43 L459.0,260.77 L461.0,261.10 L463.0,261.44 L465.0,261.78 L467.0,262.13 L469.0,262.48 L471.0,262.84 L473.0,263.20 L475.0,263.57 L477.0,263.93 L479.0,264.31 L481.0,264.69 L483.0,265.07 L485.0,265.46 L487.0,265.85 L489.0,266.25 L491.0,266.65 L493.0,267.06 L495.0,267.47 L497.0,267.88 L499.0,268.31 L501.0,268.73 L503.0,269.17 L505.0,269.60 L507.0,270.05 L509.0,270.49 L511.0,270.95 L513.0,271.41 L515.0,271.87 L517.0,272.34 L519.0,272.81 L521.0,273.30 L523.0,273.78 L525.0,274.27 L527.0,274.77 L529.0,275.28 L531.0,275.79 L533.0,276.30 L535.0,276.83 L537.0,277.36 L539.0,277.89 L541.0,278.43 L543.0,278.98 L545.0,279.53 L547.0,280.09 L549.0,280.66 L551.0,281.23 L553.0,281.82 L555.0,282.40 L557.0,283.00 L559.0,283.60 L561.0,284.21 L563.0,284.82 L565.0,285.44 L567.0,286.07 L569.0,286.71 L571.0,287.35 L573.0,288.01 L575.0,288.66 L577.0,289.33 L579.0,290.01 L581.0,290.69 L583.0,291.38 L585.0,292.08 L587.0,292.78 L589.0,293.49 L591.0,294.22 L593.0,294.95 L595.0,295.68 L597.0,296.43 L599.0,297.19 L601.0,297.95 L603.0,298.72 L605.0,299.50 L607.0,300.29 L609.0,301.09 L611.0,301.90 L613.0,302.72 L615.0,303.54 L617.0,304.38 L619.0,305.22 L621.0,306.07 L623.0,306.93 L625.0,307.81 L627.0,308.69 L629.0,309.58 L631.0,310.48 L633.0,311.39 L635.0,312.31 L637.0,313.24 L639.0,314.18 L641.0,315.13 L643.0,316.10 L645.0,317.07 L647.0,318.05 L649.0,319.04 L651.0,320.04 L653.0,321.06 L655.0,322.08 L657.0,323.12 L659.0,324.16 L661.0,325.22 L663.0,326.29 L665.0,327.37 L667.0,328.46 L669.0,329.56 L671.0,330.67 L673.0,331.80 L675.0,332.94 L677.0,334.08 L679.0,335.24 L681.0,336.42 L683.0,337.60 L685.0,338.80 L687.0,340.00 L689.0,341.22 L691.0,342.46 L693.0,343.70 L695.0,344.96 L697.0,346.23 L699.0,347.51 L701.0,348.80 L703.0,350.11 L705.0,351.43 L707.0,352.77 L709.0,354.11 L711.0,355.47 L713.0,356.84 L715.0,358.23 L717.0,359.63 L719.0,361.04 L721.0,362.47 L723.0,363.91 L725.0,365.36 L727.0,366.83 L729.0,368.31 L731.0,369.80 L733.0,371.31 L735.0,372.83 L737.0,374.36 L739.0,375.91 L741.0,377.48 L743.0,379.05 L745.0,380.65 L747.0,382.25 L749.0,383.87 L751.0,385.51 L753.0,387.16 L755.0,388.82 L757.0,390.50 L759.0,392.19 L761.0,393.90 L763.0,395.62 L765.0,397.36 L767.0,399.11 L769.0,400.88 L771.0,402.66 L773.0,404.46 L775.0,406.27 L777.0,408.09 L779.0,409.94 L781.0,411.79 L783.0,413.66 L785.0,415.55 L787.0,417.45 L789.0,419.37 L791.0,421.30 L793.0,423.25 L795.0,425.21 L797.0,427.18 L799.0,429.18 L801.0,431.18 L803.0,433.21 L805.0,435.24 L807.0,437.30 L809.0,439.37 L811.0,441.45 L813.0,443.55 L815.0,445.66 L817.0,447.79 L819.0,449.93 L821.0,452.09 L823.0,454.27 L825.0,456.46 L827.0,458.66 L829.0,460.88 L831.0,463.11 L833.0,465.36 L835.0,467.63 L837.0,469.91 L839.0,472.20 L841.0,474.51 L843.0,476.83 L845.0,479.17 L847.0,481.52 L849.0,483.89 L851.0,486.27 L853.0,488.67 L855.0,491.08 L857.0,493.50 L859.0,495.94 L861.0,498.39 L863.0,500.86 L865.0,503.34 L867.0,505.84 L869.0,508.34 L871.0,510.87 L873.0,513.40 L875.0,515.95 L877.0,518.51 L879.0,521.09 L881.0,523.68 L883.0,526.28 L885.0,528.89 L887.0,531.52 L889.0,534.16 L891.0,536.81 L893.0,539.48 L895.0,542.15 L897.0,544.84 L899.0,547.54 L901.0,550.26 L903.0,552.98 L905.0,555.72 L907.0,558.46 L909.0,561.22 L911.0,563.99 L913.0,566.77 L915.0,569.56 L917.0,572.36 L919.0,575.18 L921.0,578.00 L923.0,580.83 L925.0,583.67 L927.0,586.52 L929.0,589.38 L931.0,592.25 L933.0,595.13 L935.0,598.02 L937.0,600.91 L939.0,603.82 L941.0,606.73 L943.0,609.65 L945.0,612.58 L947.0,615.52 L949.0,618.46 L951.0,621.41 L953.0,624.37 L955.0,627.33 L957.0,630.30 L959.0,633.28 L961.0,636.26 L963.0,639.25 L965.0,642.24 L967.0,645.24 L969.0,648.25 L971.0,651.26 L973.0,654.27 L975.0,657.29 L977.0,660.31 L979.0,663.33 L981.0,666.36 L983.0,669.40 L985.0,672.43 L987.0,675.47 L989.0,678.51 L991.0,681.56 L993.0,684.60 L995.0,687.65 L997.0,690.70 L999.0,693.75 L1001.0,696.80 L1003.0,699.85 L1005.0,702.91 L1007.0,705.96 L1009.0,709.01 L1011.0,712.07 L1013.0,715.12 L1015.0,718.17 L1017.0,721.22 L1019.0,724.27 L1021.0,727.32 L1023.0,730.37 L1025.0,733.41 L1027.0,736.45 L1029.0,739.49 L1031.0,742.53 L1033.0,745.56 L1035.0,748.60 L1037.0,751.62 L1039.0,754.65 L1041.0,757.67 L1043.0,760.68 L1045.0,763.69 L1047.0,766.70 L1049.0,769.70 L1051.0,772.70 L1053.0,775.69 L1055.0,778.67 L1057.0,781.65 L1059.0,784.63 L1061.0,787.59 L1063.0,790.56 L1065.0,793.51 L1067.0,796.46 L1069.0,799.39 L1071.0,802.33 L1073.0,805.25 L1075.0,808.17 L1077.0,811.08 L1079.0,813.98 L1081.0,816.87 L1083.0,819.75 L1085.0,822.62 L1087.0,825.49 L1089.0,828.35 L1091.0,831.19 L1093.0,834.03 L1095.0,836.85 L1097.0,839.67 L1099.0,842.48 L1101.0,845.27 L1103.0,848.06 L1105.0,850.83 L1107.0,853.60 L1109.0,856.35 L1111.0,859.09 L1113.0,861.82 L1115.0,864.54 L1117.0,867.25 L1119.0,869.94 L1121.0,872.62 L1123.0,875.29 L1125.0,877.95 L1127.0,880.60 L1129.0,883.23 L1131.0,885.85 L1133.0,888.46 L1135.0,891.05 L1137.0,893.64 L1139.0,896.20 L1141.0,898.76 L1143.0,901.30 L1145.0,903.83 L1147.0,906.34 L1149.0,908.85 L1151.0,911.33 L1153.0,913.81 L1155.0,916.27 L1157.0,918.71 L1159.0,921.14 L1161.0,923.56 L1163.0,925.96 L1165.0,928.35 L1167.0,930.73 L1169.0,933.08 L1171.0,935.43 L1173.0,937.76 L1175.0,940.08 L1177.0,942.38 L1179.0,944.66 L1181.0,946.93 L1183.0,949.19 L1185.0,951.43 L1187.0,953.66 L1189.0,955.87 L1191.0,958.07 L1193.0,960.25 L1195.0,962.41 L1197.0,964.56 L1199.0,966.70 L1201.0,968.82 L1203.0,970.93 L1205.0,973.02 L1207.0,975.09 L1209.0,977.15 L1211.0,979.20 L1213.0,981.23 L1215.0,983.24 L1217.0,985.24 L1219.0,987.23 L1221.0,989.20 L1223.0,991.15 L1225.0,993.09 L1227.0,995.01 L1229.0,996.92 L1231.0,998.81 L1233.0,1000.69 L1235.0,1002.56 L1237.0,1004.40 L1239.0,1006.24 L1241.0,1008.06 L1243.0,1009.86 L1245.0,1011.65 L1247.0,1013.42 L1249.0,1015.18 L1251.0,1016.92 L1253.0,1018.65 L1255.0,1020.37 L1257.0,1022.07 L1259.0,1023.75 L1261.0,1025.42 L1263.0,1027.08 L1265.0,1028.72 L1267.0,1030.35 L1269.0,1031.96 L1271.0,1033.56 L1273.0,1035.15 L1275.0,1036.72 L1277.0,1038.27 L1279.0,1039.82 L1281.0,1041.34 L1283.0,1042.86 L1285.0,1044.36 L1287.0,1045.85 L1289.0,1047.32 L1291.0,1048.78 L1293.0,1050.22 L1295.0,1051.66 L1297.0,1053.07 L1299.0,1054.48 L1301.0,1055.87 L1303.0,1057.25 L1305.0,1058.62 L1307.0,1059.97 L1309.0,1061.31 L1311.0,1062.63 L1313.0,1063.95 L1315.0,1065.25 L1317.0,1066.54 L1319.0,1067.81 L1321.0,1069.08 L1323.0,1070.33 L1325.0,1071.56 L1327.0,1072.79 L1329.0,1074.00 L1331.0,1075.21 L1333.0,1076.40 L1335.0,1077.57 L1337.0,1078.74 L1339.0,1079.89 L1341.0,1081.03 L1343.0,1082.16 L1345.0,1083.28 L1347.0,1084.39 L1349.0,1085.49 L1351.0,1086.57 L1353.0,1087.65 L1355.0,1088.71 L1357.0,1089.76 L1359.0,1090.80 L1361.0,1091.83 L1363.0,1092.85 L1365.0,1093.86 L1367.0,1094.85 L1369.0,1095.84 L1371.0,1096.82 L1373.0,1097.78 L1375.0,1098.74 L1377.0,1099.68 L1379.0,1100.62 L1381.0,1101.55 L1383.0,1102.46 L1385.0,1103.37 L1387.0,1104.26 L1389.0,1105.15 L1391.0,1106.02 L1393.0,1106.89 L1395.0,1107.75 L1397.0,1108.60 L1399.0,1109.44 L1401.0,1110.27 L1403.0,1111.09 L1405.0,1111.90 L1407.0,1112.70 L1409.0,1113.50 L1411.0,1114.28 L1413.0,1115.06 L1415.0,1115.82 L1417.0,1116.58 L1419.0,1117.33 L1421.0,1118.08 L1423.0,1118.81 L1425.0,1119.54 L1427.0,1120.25 L1429.0,1120.96 L1431.0,1121.66 L1433.0,1122.36 L1435.0,1123.04 L1437.0,1123.72 L1439.0,1124.39 L1441.0,1125.06 L1443.0,1125.71 L1445.0,1126.36 L1447.0,1127.00 L1449.0,1127.63 L1451.0,1128.26 L1453.0,1128.88 L1455.0,1129.49 L1457.0,1130.09 L1459.0,1130.69 L1461.0,1131.28 L1463.0,1131.86 L1465.0,1132.44 L1467.0,1133.01 L1469.0,1133.57 L1471.0,1134.13 L1473.0,1134.68 L1475.0,1135.23 L1477.0,1135.76 L1479.0,1136.30 L1481.0,1136.82 L1483.0,1137.34 L1485.0,1137.85 L1487.0,1138.36 L1489.0,1138.86 L1491.0,1139.36 L1493.0,1139.85 L1495.0,1140.33 L1497.0,1140.81 L1499.0,1141.28 L1501.0,1141.75 L1503.0,1142.21 L1505.0,1142.67 L1507.0,1143.12 L1509.0,1143.56 L1511.0,1144.00 L1513.0,1144.43 L1515.0,1144.86 L1517.0,1145.29 L1519.0,1145.71 L1521.0,1146.12 L1523.0,1146.53 L1525.0,1146.94 L1527.0,1147.33 L1529.0,1147.73 L1531.0,1148.12 L1533.0,1148.50 L1535.0,1148.89 L1537.0,1149.26 L1539.0,1149.63 L1541.0,1150.00 L1543.0,1150.36 L1545.0,1150.72 L1547.0,1151.08 L1549.0,1151.42 L1551.0,1151.77 L1553.0,1152.11 L1555.0,1152.45 L1557.0,1152.78 L1559.0,1153.11 L1561.0,1153.44 L1563.0,1153.76 L1565.0,1154.07 L1567.0,1154.39 L1569.0,1154.70 L1571.0,1155.00 L1573.0,1155.30 L1575.0,1155.60 L1577.0,1155.90 L1579.0,1156.19 L1581.0,1156.48 L1583.0,1156.76 L1585.0,1157.04 L1587.0,1157.32 L1589.0,1157.59 L1591.0,1157.86 L1593.0,1158.13 L1595.0,1158.39 L1597.0,1158.65 L1599.0,1158.91 L1601.0,1159.16 L1603.0,1159.42 L1605.0,1159.66 L1607.0,1159.91 L1609.0,1160.15 L1611.0,1160.39 L1613.0,1160.62 L1615.0,1160.86 L1617.0,1161.09 L1619.0,1161.32 L1621.0,1161.54 L1623.0,1161.76 L1625.0,1161.98 L1627.0,1162.20 L1629.0,1162.41 L1631.0,1162.62 L1633.0,1162.83 L1635.0,1163.04 L1637.0,1163.24 L1639.0,1163.44 L1641.0,1163.64 L1643.0,1163.83 L1645.0,1164.03 L1647.0,1164.22 L1649.0,1164.41 L1651.0,1164.59 L1653.0,1164.78 L1655.0,1164.96 L1657.0,1165.14 L1659.0,1165.31 L1661.0,1165.49 L1663.0,1165.66 L1665.0,1165.83 L1667.0,1166.00 L1669.0,1166.17 L1671.0,1166.33 L1673.0,1166.49 L1675.0,1166.65 L1677.0,1166.81 L1679.0,1166.97 L1681.0,1167.12 L1683.0,1167.27 L1685.0,1167.42 L1687.0,1167.57 L1689.0,1167.72 L1691.0,1167.86 L1693.0,1168.01 L1695.0,1168.15 L1697.0,1168.29 L1699.0,1168.42 L1701.0,1168.56 L1703.0,1168.69 L1705.0,1168.83 L1707.0,1168.96 L1709.0,1169.09 L1711.0,1169.21 L1713.0,1169.34 L1715.0,1169.46 L1717.0,1169.59 L1719.0,1169.71 L1721.0,1169.83 L1723.0,1169.95 L1725.0,1170.06 L1727.0,1170.18 L1729.0,1170.29 L1731.0,1170.41 L1733.0,1170.52 L1735.0,1170.63 L1737.0,1170.73 L1739.0,1170.84 L1741.0,1170.95 L1743.0,1171.05 L1745.0,1171.15 L1747.0,1171.25 L1749.0,1171.35 L1751.0,1171.45 L1753.0,1171.55 L1755.0,1171.65 L1757.0,1171.74 L1759.0,1171.84 L1761.0,1171.93 L1763.0,1172.02 L1765.0,1172.11 L1767.0,1172.20 L1769.0,1172.29 L1771.0,1172.38 L1773.0,1172.46 L1775.0,1172.55 L1777.0,1172.63 L1779.0,1172.72 L1781.0,1172.80 L1783.0,1172.88 L1785.0,1172.96 L1787.0,1173.04 L1789.0,1173.11 L1791.0,1173.19 L1793.0,1173.27 L1795.0,1173.34 L1797.0,1173.41 L1799.0,1173.49 L1801.0,1173.56 L1803.0,1173.63 L1805.0,1173.70 L1807.0,1173.77 L1809.0,1173.84 L1811.0,1173.91 L1813.0,1173.97 L1815.0,1174.04 L1817.0,1174.10 L1819.0,1174.17 L1821.0,1174.23 L1823.0,1174.29 L1825.0,1174.36 L1827.0,1174.42 L1829.0,1174.48 L1831.0,1174.54 L1833.0,1174.59 L1835.0,1174.65 L1837.0,1174.71 L1839.0,1174.77 L1840.0,1174.79" fill="none" stroke="#d3d3d3" stroke-width="7" stroke-linejoin="round"/>
<polygon transform="translate(1251.50 60.00)" clip-path="url(#sc1)" points="0.00,-38.00 8.35,-11.49 36.14,-11.74 13.51,4.39 22.34,30.74 0.00,14.20 -22.34,30.74 -13.51,4.39 -36.14,-11.74 -8.35,-11.49" fill="#d3d3d3"/><rect x="1229" y="139" width="45" height="46" fill="#000"/><polygon points="1251.50,235.80 1275.40,277.20 1227.60,277.20" fill="#000" stroke="#000" stroke-width="13.20" stroke-linejoin="round"/><polygon points="1251.50,251.20 1262.07,269.50 1240.93,269.50" fill="#fff"/>
<g font-family="Liberation Sans, Arial, sans-serif" font-size="84" fill="#000"><text transform="translate(1367.9 88.9) scale(1 1.03)" textLength="491.2" lengthAdjust="spacing">DOTA-MGS5</text><text transform="translate(1367.7 189.9) scale(1 1.03)" textLength="630.3" lengthAdjust="spacing">Ga-DOTA-MGS5</text><text x="1368.9" y="291.8" textLength="453.4" lengthAdjust="spacing">pentagastrin</text></g>
<defs><mask id="m1a" maskUnits="userSpaceOnUse" x="-200" y="-100" width="400" height="130"><rect x="-200" y="-100" width="400" height="130" fill="#fff"/><rect x="3.50" y="-7.6" width="17.75" height="9" fill="#000"/><rect x="28.70" y="-7.6" width="17" height="9" fill="#000"/></mask><mask id="m10d01" maskUnits="userSpaceOnUse" x="-200" y="-100" width="400" height="130"><rect x="-200" y="-100" width="400" height="130" fill="#fff"/><rect x="38.51" y="-7.6" width="17.75" height="9" fill="#000"/><rect x="63.71" y="-7.6" width="17" height="9" fill="#000"/></mask><mask id="m10d1" maskUnits="userSpaceOnUse" x="-200" y="-100" width="400" height="130"><rect x="-200" y="-100" width="400" height="130" fill="#fff"/><rect x="15.16" y="-7.6" width="17.75" height="9" fill="#000"/><rect x="40.36" y="-7.6" width="17" height="9" fill="#000"/></mask><mask id="m11" maskUnits="userSpaceOnUse" x="-200" y="-100" width="400" height="130"><rect x="-200" y="-100" width="400" height="130" fill="#fff"/><rect x="-19.86" y="-7.6" width="17.75" height="9" fill="#000"/><rect x="5.34" y="-7.6" width="17" height="9" fill="#000"/></mask><mask id="m110" maskUnits="userSpaceOnUse" x="-200" y="-100" width="400" height="130"><rect x="-200" y="-100" width="400" height="130" fill="#fff"/><rect x="-43.21" y="-7.6" width="17.75" height="9" fill="#000"/><rect x="-18.01" y="-7.6" width="17" height="9" fill="#000"/></mask><mask id="m1100" maskUnits="userSpaceOnUse" x="-200" y="-100" width="400" height="130"><rect x="-200" y="-100" width="400" height="130" fill="#fff"/><rect x="-66.57" y="-7.6" width="17.75" height="9" fill="#000"/><rect x="-41.37" y="-7.6" width="17" height="9" fill="#000"/></mask><clipPath id="plotclip"><rect x="315" y="0" width="1693" height="1542"/></clipPath><clipPath id="sc0"><circle cx="0" cy="0" r="23"/></clipPath><clipPath id="sc1"><circle cx="0" cy="0" r="29.5"/></clipPath></defs>
</svg>
</body></html>
